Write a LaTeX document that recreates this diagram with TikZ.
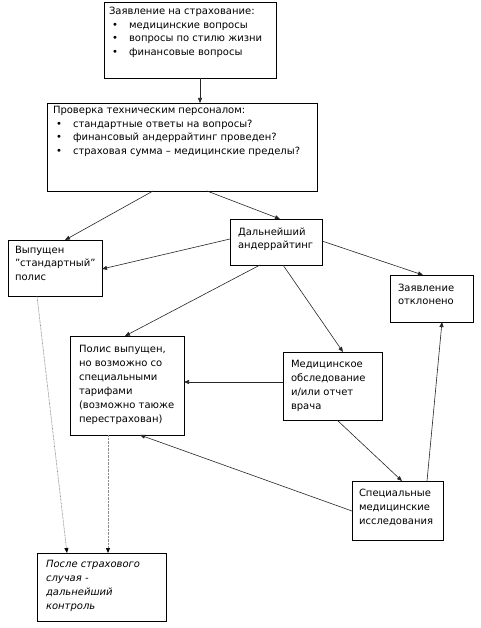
\documentclass[tikz,border=0pt]{standalone}
\usepackage{fontspec}
\setmainfont{DejaVu Sans}
\usetikzlibrary{arrows.meta}
\newcommand\bxcell[5][7]{\parbox[c][#3pt][t]{#2pt}{\vspace*{\dimexpr#4pt-8pt\relax}\raggedright\leftskip=#1pt\relax\parindent=0pt\rule{0pt}{8pt}#5\par}}
\newcommand\bitem[1]{\hspace*{3pt}\makebox[17pt][l]{\textbullet}#1}
\begin{document}
\begin{tikzpicture}[x=1pt,y=-1pt,
  font=\fontsize{10}{13.5}\selectfont,
  bx/.style={draw=black,line width=0.9pt,inner sep=0pt,outer sep=0pt,anchor=north west},
  arr/.style={draw=black!85,line width=0.6pt,-{Triangle[length=5pt,width=4pt]}},
  dotline/.style={draw=black!45,line width=0.7pt,dash pattern=on 0.7pt off 0.7pt,-{Triangle[length=5pt,width=4pt,color=black]}}]
\useasboundingbox (0,0) rectangle (480,628);
\fill[white] (0,0) rectangle (480,628);

\node[bx] (app) at (104,2) {\bxcell[5]{172}{76}{13}{Заявление на страхование:\\
\bitem{медицинские вопросы}\\
\bitem{вопросы по стилю жизни}\\
\bitem{финансовые вопросы}}};

\node[bx] (check) at (47,103) {\bxcell[6]{270}{88}{11}{Проверка техническим персоналом:\\
\bitem{стандартные ответы на вопросы?}\\
\bitem{финансовый андеррайтинг проведен?}\\
\bitem{страховая сумма – медицинские пределы?}}};

\node[bx] (std) at (8,240) {\bxcell[7]{94}{56}{13}{Выпущен\\"стандартный”\\полис}};

\node[bx] (further) at (230,219) {\bxcell[8]{92}{46}{16}{Дальнейший\\андеррайтинг}};

\node[bx] (rej) at (390,275) {\bxcell[8]{83}{47}{16}{Заявление\\отклонено}};

\node[bx] (pol) at (70,336) {\bxcell[9]{114}{99}{16}{\baselineskip=14pt Полис выпущен,\\но возможно со\\специальными\\тарифами\\(возможно таюже\\перестрахован)}};

\node[bx] (med) at (283,352) {\bxcell[8]{99}{68}{15}{\baselineskip=14pt Медицинское\\обследование\\и/или отчет\\врача}};

\node[bx] (spec) at (352,481) {\bxcell[7]{91}{59}{15}{\baselineskip=14pt Специальные\\медицинские\\исследования}};

\node[bx] (after) at (37,553) {\bxcell[9]{129}{68}{14}{\itshape\baselineskip=14pt После страхового\\случая -\\дальнейший\\контроль}};

\draw[arr] ([xshift=96pt]app.south west) -- ([xshift=153pt]check.north west);
\draw[arr] ([xshift=106pt]check.south west) -- ([xshift=57pt]std.north west);
\draw[arr] ([xshift=160pt]check.south west) -- ([xshift=50pt]further.north west);
\draw[arr] ([yshift=-20pt]further.north west) -- ([yshift=-29pt]std.north east);
\draw[arr] ([yshift=-22pt]further.north east) -- ([xshift=33pt]rej.north west);
\draw[arr] ([xshift=30pt]further.south west) -- ([xshift=55pt]pol.north west);
\draw[arr] ([xshift=53pt]further.south west) -- ([xshift=60pt]med.north west);
\draw[arr] ([yshift=-30pt]med.north west) -- ([yshift=-46pt]pol.north east);
\draw[arr] ([xshift=54pt]med.south west) -- ([xshift=50pt]spec.north west);
\draw[arr] ([yshift=-30pt]spec.north west) -- ([xshift=70pt]pol.south west);
\draw[arr] ([xshift=75pt]spec.north west) -- ([xshift=52pt]rej.south west);
\draw[dotline] ([xshift=29pt]std.south west) -- ([xshift=30pt]after.north west);
\draw[dotline] ([xshift=38pt]pol.south west) -- ([xshift=71pt]after.north west);
\end{tikzpicture}
\end{document}
